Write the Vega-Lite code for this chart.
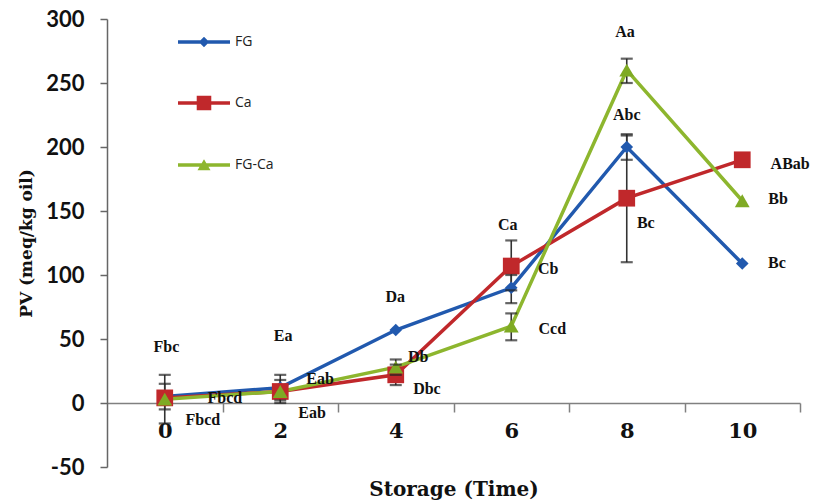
{
  "$schema": "https://vega.github.io/schema/vega-lite/v6.json",
  "width": 693,
  "height": 448,
  "autosize": "none",
  "padding": {"left": 107, "top": 19, "right": 13, "bottom": 36},
  "background": "white",
  "config": {"view": {"stroke": null}},
  "datasets": {
    "pv": [
      {"series": "FG", "time": 0, "pv": 5, "lo": -5, "hi": 15},
      {"series": "FG", "time": 2, "pv": 12, "lo": 2, "hi": 22},
      {"series": "FG", "time": 4, "pv": 57, "lo": null, "hi": null},
      {"series": "FG", "time": 6, "pv": 90, "lo": 78, "hi": 100},
      {"series": "FG", "time": 8, "pv": 200, "lo": 190, "hi": 209},
      {"series": "FG", "time": 10, "pv": 109, "lo": null, "hi": null},
      {"series": "Ca", "time": 0, "pv": 4, "lo": -16, "hi": 22},
      {"series": "Ca", "time": 2, "pv": 9, "lo": 0, "hi": 18},
      {"series": "Ca", "time": 4, "pv": 22, "lo": 14, "hi": 30},
      {"series": "Ca", "time": 6, "pv": 107, "lo": 88, "hi": 127},
      {"series": "Ca", "time": 8, "pv": 160, "lo": 110, "hi": 210},
      {"series": "Ca", "time": 10, "pv": 190, "lo": null, "hi": null},
      {"series": "FG-Ca", "time": 0, "pv": 3, "lo": null, "hi": null},
      {"series": "FG-Ca", "time": 2, "pv": 9, "lo": null, "hi": null},
      {"series": "FG-Ca", "time": 4, "pv": 28, "lo": 22, "hi": 34},
      {"series": "FG-Ca", "time": 6, "pv": 60, "lo": 49, "hi": 70},
      {"series": "FG-Ca", "time": 8, "pv": 260, "lo": 250, "hi": 269},
      {"series": "FG-Ca", "time": 10, "pv": 158, "lo": null, "hi": null}
    ],
    "labels": [
      {"label": "Fbc", "t": 0.03, "v": 44},
      {"label": "Fbcd", "t": 1.04, "v": 4},
      {"label": "Fbcd", "t": 0.66, "v": -13},
      {"label": "Ea", "t": 2.05, "v": 52},
      {"label": "Eab", "t": 2.69, "v": 19},
      {"label": "Eab", "t": 2.55, "v": -8},
      {"label": "Da", "t": 3.99, "v": 83},
      {"label": "Db", "t": 4.39, "v": 36},
      {"label": "Dbc", "t": 4.54, "v": 11},
      {"label": "Ca", "t": 5.94, "v": 139},
      {"label": "Cb", "t": 6.64, "v": 105},
      {"label": "Ccd", "t": 6.71, "v": 58},
      {"label": "Aa", "t": 7.97, "v": 290},
      {"label": "Abc", "t": 8.0, "v": 225},
      {"label": "Bc", "t": 8.33, "v": 141},
      {"label": "ABab", "t": 10.83, "v": 187},
      {"label": "Bb", "t": 10.62, "v": 159},
      {"label": "Bc", "t": 10.6, "v": 109}
    ]
  },
  "layer": [
    {
      "data": {"name": "pv"},
      "mark": {"type": "line", "strokeWidth": 3.5},
      "encoding": {
        "x": {
          "field": "time", "type": "quantitative",
          "title": "Storage (Time)",
          "scale": {"domain": [-1, 11], "nice": false, "zero": false},
          "axis": {
            "values": [0, 1, 2, 3, 4, 5, 6, 7, 8, 9, 10, 11],
            "labelExpr": "datum.value % 2 === 0 ? '' + datum.value : ''",
            "offset": -64,
            "grid": false,
            "domainColor": "#808080",
            "domainWidth": 1.5,
            "tickSize": 9,
            "tickWidth": 1.5,
            "tickColor": {"condition": {"test": "datum.value % 2 === 1", "value": "#808080"}, "value": "transparent"},
            "labelFont": "DejaVu Serif",
            "labelFontWeight": "bold",
            "labelFontSize": 21,
            "labelColor": "#111111",
            "labelPadding": 8,
            "titleFont": "DejaVu Serif",
            "titleFontWeight": "bold",
            "titleFontSize": 20,
            "titleColor": "#111111",
            "titlePadding": 38
          }
        },
        "y": {
          "field": "pv", "type": "quantitative",
          "title": "PV (meq/kg oil)",
          "scale": {"domain": [-50, 300], "nice": false, "zero": false},
          "axis": {
            "values": [-50, 0, 50, 100, 150, 200, 250, 300],
            "labelExpr": "'' + datum.value",
            "grid": false,
            "domainColor": "#666666",
            "domainWidth": 1.5,
            "tickColor": "#666666",
            "tickSize": 7,
            "tickWidth": 1.5,
            "labelFont": "Lato",
            "labelFontWeight": "bold",
            "labelFontSize": 22,
            "labelColor": "#111111",
            "labelPadding": 16,
            "titleFont": "DejaVu Serif",
            "titleFontWeight": "bold",
            "titleFontSize": 17,
            "titleColor": "#111111",
            "titlePadding": 10
          }
        },
        "color": {
          "field": "series", "type": "nominal",
          "scale": {"domain": ["FG", "Ca", "FG-Ca"], "range": ["#2159AE", "#C0282B", "#8DB62E"]},
          "legend": {
            "orient": "none",
            "legendX": 71,
            "legendY": -3,
            "title": null,
            "padding": 0,
            "symbolSize": 2704,
            "symbolStrokeWidth": 0,
            "rowPadding": 28,
            "labelOffset": 5,
            "labelFont": "Open Sans",
            "labelFontSize": 14,
            "labelColor": "#222222",
            "encode": {
              "symbols": {
                "update": {
                  "shape": {"signal": "datum.value === 'FG' ? 'M-1,-0.07L1,-0.07L1,0.07L-1,0.07Z M-0.2,0L0,-0.2L0.2,0L0,0.2Z' : datum.value === 'Ca' ? 'M-1,-0.07L1,-0.07L1,0.07L-1,0.07Z M-0.28,-0.28L0.28,-0.28L0.28,0.28L-0.28,0.28Z' : 'M-1,-0.07L1,-0.07L1,0.07L-1,0.07Z M-0.25,0.2L0,-0.22L0.25,0.2Z'"},
                  "fill": {"scale": "color", "field": "value"},
                  "stroke": {"value": "transparent"},
                  "opacity": {"value": 1}
                }
              }
            }
          }
        }
      }
    },
    {
      "data": {"name": "pv"},
      "transform": [{"filter": "datum.lo != null"}],
      "mark": {"type": "rule", "color": "#333333", "strokeWidth": 1.6},
      "encoding": {
        "x": {"field": "time", "type": "quantitative"},
        "y": {"field": "lo", "type": "quantitative"},
        "y2": {"field": "hi"}
      }
    },
    {
      "data": {"name": "pv"},
      "transform": [{"filter": "datum.series === 'FG'"}],
      "mark": {"type": "point", "filled": true, "opacity": 1, "shape": "diamond", "size": 160, "color": "#2159AE"},
      "encoding": {
        "x": {"field": "time", "type": "quantitative"},
        "y": {"field": "pv", "type": "quantitative"}
      }
    },
    {
      "data": {"name": "pv"},
      "transform": [{"filter": "datum.series === 'Ca'"}],
      "mark": {"type": "point", "filled": true, "opacity": 1, "shape": "square", "size": 280, "color": "#C0282B"},
      "encoding": {
        "x": {"field": "time", "type": "quantitative"},
        "y": {"field": "pv", "type": "quantitative"}
      }
    },
    {
      "data": {"name": "pv"},
      "transform": [{"filter": "datum.series === 'FG-Ca'"}],
      "mark": {"type": "point", "filled": true, "opacity": 1, "shape": "triangle-up", "size": 220, "color": "#7FAA24"},
      "encoding": {
        "x": {"field": "time", "type": "quantitative"},
        "y": {"field": "pv", "type": "quantitative"}
      }
    },
    {
      "data": {"name": "pv"},
      "transform": [{"filter": "datum.lo != null"}],
      "mark": {"type": "tick", "orient": "horizontal", "color": "#222222", "size": 12, "thickness": 2.2},
      "encoding": {
        "x": {"field": "time", "type": "quantitative"},
        "y": {"field": "hi", "type": "quantitative"}
      }
    },
    {
      "data": {"name": "pv"},
      "transform": [{"filter": "datum.lo != null"}],
      "mark": {"type": "tick", "orient": "horizontal", "color": "#222222", "size": 12, "thickness": 2.2},
      "encoding": {
        "x": {"field": "time", "type": "quantitative"},
        "y": {"field": "lo", "type": "quantitative"}
      }
    },
    {
      "data": {"name": "labels"},
      "mark": {"type": "text", "font": "Liberation Serif", "fontWeight": "bold", "fontSize": 16, "color": "#111111"},
      "encoding": {
        "x": {"field": "t", "type": "quantitative"},
        "y": {"field": "v", "type": "quantitative"},
        "text": {"field": "label", "type": "nominal"}
      }
    }
  ]
}
